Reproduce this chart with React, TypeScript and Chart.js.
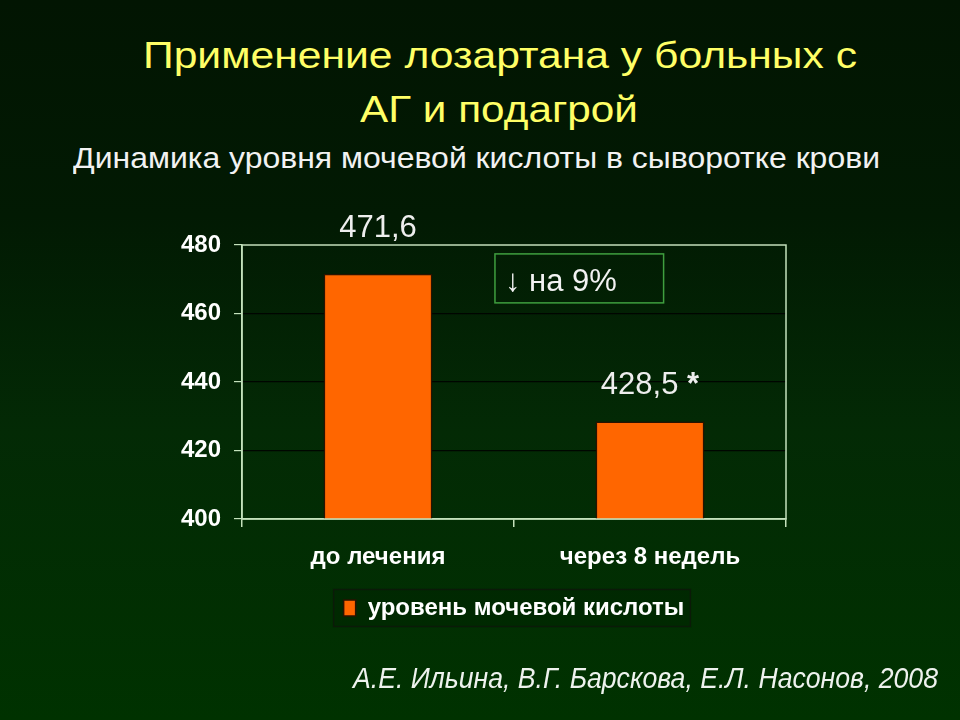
import React, { useEffect, useLayoutEffect, useRef } from "react";
import { Chart, registerables } from "chart.js";

Chart.register(...registerables);

// ---- data ----
const CATEGORIES = ["до лечения", "через 8 недель"];
const SERIES_NAME = "уровень мочевой кислоты";
const SERIES_VALUES = [471.6, 428.5];
const VALUE_MARKS = ["", "*"];
const Y_MIN = 400;
const Y_MAX = 480;
const Y_STEP = 20;
const ANNOTATION_TEXT = "↓ на 9%";
const TITLE_LINES = ["Применение лозартана у больных с", "АГ и подагрой"];
const SUBTITLE = "Динамика уровня мочевой кислоты в сыворотке крови";
const FOOTNOTE = "А.Е. Ильина, В.Г. Барскова, Е.Л. Насонов, 2008";

const LIGHT = "#c4e2bc";
const FONT = "'Liberation Sans', Arial, sans-serif";

const fmt = (v: number) => v.toFixed(1).replace(".", ",");

const plotBorder = {
  id: "plotBorder",
  afterDraw(chart: any) {
    const { ctx, chartArea: a } = chart;
    ctx.save();
    ctx.strokeStyle = LIGHT;
    ctx.lineWidth = 1.5;
    ctx.strokeRect(a.left, a.top, a.right - a.left, a.bottom - a.top);
    ctx.restore();
  },
};

const valueLabels = {
  id: "valueLabels",
  afterDatasetsDraw(chart: any) {
    const { ctx, chartArea } = chart;
    const meta = chart.getDatasetMeta(0);
    ctx.save();
    meta.data.forEach((bar: any, i: number) => {
      const text = fmt(SERIES_VALUES[i]);
      const mark = VALUE_MARKS[i] ? " " + VALUE_MARKS[i] : "";
      ctx.font = `31px ${FONT}`;
      const w1 = ctx.measureText(text).width;
      ctx.font = `bold 31px ${FONT}`;
      const w2 = mark ? ctx.measureText(mark).width : 0;
      const total = w1 + w2;
      let y = bar.y - 27;
      if (y - 24 < chartArea.top) y = chartArea.top - 8;
      const x0 = bar.x - total / 2;
      ctx.fillStyle = "#eeeeee";
      ctx.textBaseline = "alphabetic";
      ctx.textAlign = "left";
      ctx.font = `31px ${FONT}`;
      ctx.fillText(text, x0, y);
      if (mark) {
        ctx.font = `bold 31px ${FONT}`;
        ctx.fillText(mark, x0 + w1, y);
      }
    });
    ctx.restore();
  },
};

const changeNote = {
  id: "changeNote",
  afterDraw(chart: any) {
    const { ctx } = chart;
    const x = chart.scales.x;
    const y = chart.scales.y;
    const step = x.getPixelForValue(1) - x.getPixelForValue(0);
    const left = x.getPixelForValue(0) + step * 0.43;
    const right = x.getPixelForValue(1) + step * 0.05;
    const top = y.getPixelForValue(477.4);
    const bottom = y.getPixelForValue(463.1);
    ctx.save();
    ctx.strokeStyle = "#3f9f3f";
    ctx.lineWidth = 1.5;
    ctx.strokeRect(left, top, right - left, bottom - top);
    ctx.fillStyle = "#f2f2f2";
    ctx.font = `31px ${FONT}`;
    ctx.textBaseline = "alphabetic";
    ctx.textAlign = "left";
    ctx.fillText(ANNOTATION_TEXT, left + 10, bottom - 12);
    ctx.restore();
  },
};

const legendFrame = {
  id: "legendFrame",
  beforeDraw(chart: any) {
    const lg = chart.legend;
    if (!lg || !lg.legendHitBoxes || !lg.legendHitBoxes.length) return;
    const hb = lg.legendHitBoxes[0];
    const { ctx } = chart;
    const cy = hb.top + hb.height / 2;
    ctx.save();
    ctx.fillStyle = "rgba(0,0,0,0.12)";
    ctx.strokeStyle = "#0b1a08";
    ctx.lineWidth = 1.5;
    const l = hb.left - 10;
    const r = hb.left + hb.width + 6;
    ctx.fillRect(l, cy - 18.5, r - l, 37);
    ctx.strokeRect(l, cy - 18.5, r - l, 37);
    ctx.restore();
  },
};

function BarChart() {
  const ref = useRef<HTMLCanvasElement | null>(null);
  useEffect(() => {
    if (!ref.current) return;
    const chart = new Chart(ref.current, {
      type: "bar",
      data: {
        labels: CATEGORIES,
        datasets: [
          {
            label: SERIES_NAME,
            data: SERIES_VALUES,
            backgroundColor: "#ff6600",
            borderColor: "#2a1200",
            borderWidth: 1.5,
            barPercentage: 0.4,
            categoryPercentage: 1,
          },
        ],
      },
      options: {
        responsive: false,
        animation: false,
        devicePixelRatio: 1,
        layout: { padding: { left: 172, right: 174, top: 245, bottom: 90 } },
        plugins: {
          title: { display: false },
          tooltip: { enabled: false },
          legend: {
            display: true,
            position: "bottom",
            fullSize: false,
            labels: {
              color: "#ffffff",
              font: { family: FONT, size: 24, weight: "bold" },
              boxWidth: 12,
              boxHeight: 16,
              padding: 10,
            },
          },
        },
        scales: {
          x: {
            type: "category",
            afterFit: (s: any) => {
              s.height = 67;
            },
            grid: {
              offset: true,
              drawOnChartArea: false,
              color: LIGHT,
              tickLength: 8,
              lineWidth: 1.5,
            },
            border: { display: true, color: LIGHT, width: 1.5 },
            ticks: {
              color: "#ffffff",
              font: { family: FONT, size: 24, weight: "bold" },
              padding: 16,
            },
          },
          y: {
            min: Y_MIN,
            max: Y_MAX,
            afterFit: (s: any) => {
              s.width = 70;
            },
            ticks: {
              stepSize: Y_STEP,
              color: "#ffffff",
              font: { family: FONT, size: 24, weight: "bold" },
              padding: 13,
            },
            grid: {
              color: "rgba(0,0,0,0.85)",
              tickColor: LIGHT,
              tickLength: 8,
              lineWidth: 1.2,
            },
            border: { display: true, color: LIGHT, width: 1.5 },
          },
        },
      },
      plugins: [legendFrame, plotBorder, valueLabels, changeNote],
    } as any);
    return () => chart.destroy();
  }, []);
  return (
    <canvas
      ref={ref}
      width={960}
      height={720}
      style={{ position: "absolute", left: 0, top: 0, width: 960, height: 720 }}
    />
  );
}

function TextAt(props: {
  text: string;
  size: number;
  baseline: number;
  left: number;
  width: number;
  color: string;
  italic?: boolean;
}) {
  const { text, size, baseline, left, width, color, italic } = props;
  const spanRef = useRef<HTMLSpanElement | null>(null);
  useLayoutEffect(() => {
    const el = spanRef.current;
    if (!el) return;
    el.style.transform = "none";
    const natural = el.getBoundingClientRect().width;
    if (natural > 0) el.style.transform = `scaleX(${width / natural})`;
  }, [text, size, width]);
  const style: React.CSSProperties = {
    position: "absolute",
    top: baseline - size * 0.8465,
    left,
    fontFamily: FONT,
    fontSize: size,
    lineHeight: `${size}px`,
    color,
    whiteSpace: "nowrap",
    fontStyle: italic ? "italic" : "normal",
    display: "inline-block",
    transformOrigin: "0 50%",
  };
  return (
    <span ref={spanRef} style={style}>
      {text}
    </span>
  );
}

export default function App() {
  useEffect(() => {
    document.body.style.margin = "0";
    document.body.style.background = "#000";
  }, []);
  return (
    <div
      style={{
        position: "relative",
        width: 960,
        height: 720,
        overflow: "hidden",
        background: "linear-gradient(to bottom, #021502 0%, #021a03 30%, #032a05 60%, #003200 100%)",
      }}
    >
      <TextAt text={TITLE_LINES[0]} size={37} baseline={68} left={143} width={714} color="#ffff66" />
      <TextAt text={TITLE_LINES[1]} size={37} baseline={122} left={360} width={278} color="#ffff66" />
      <TextAt text={SUBTITLE} size={30} baseline={168} left={73} width={807} color="#f2f2f2" />
      <BarChart />
      <TextAt text={FOOTNOTE} size={30} baseline={688} left={353} width={585} color="#eef2ee" italic />
    </div>
  );
}
